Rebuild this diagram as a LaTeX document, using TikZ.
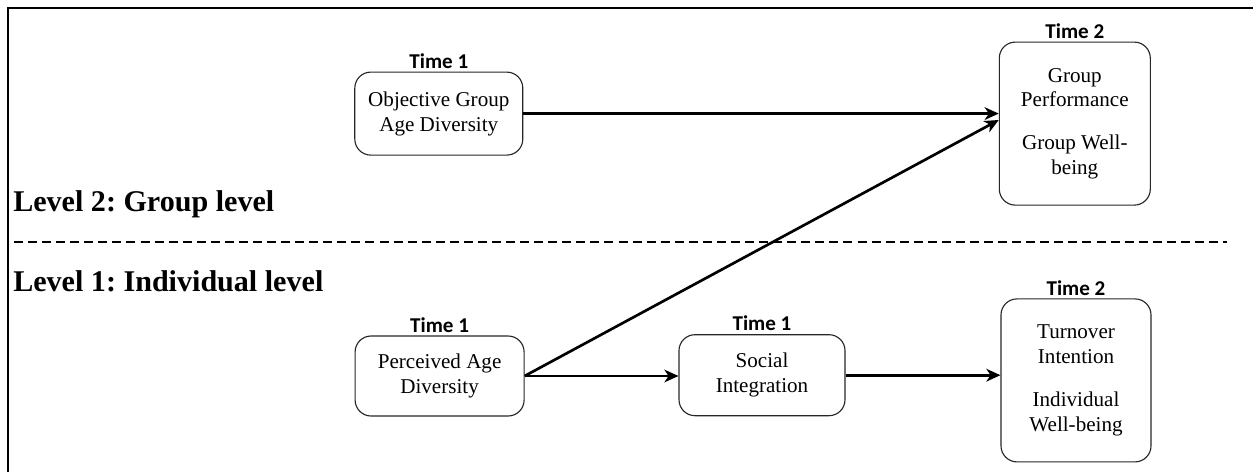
\documentclass[tikz,border=0pt]{standalone}
\usepackage{fontspec}
\setmainfont{Liberation Serif}
\newfontfamily\calfont{Carlito}
\usetikzlibrary{calc, arrows.meta, positioning}
\frenchspacing

\begin{document}
\begin{tikzpicture}[
                  box/.style    = {draw=black!85, line width=0.8pt, rounded corners=0.4cm, align=center,
                                   inner sep=2pt, font=\fontsize{15}{17.6}\selectfont},
                  tlabel/.style = {inner sep=1pt, font=\calfont\bfseries\fontsize{15}{18}\selectfont},
                  lvl/.style    = {anchor=base west, inner sep=0pt, font=\bfseries\fontsize{21.4}{25}\selectfont},
                  arr/.style    = {-{Stealth[length=10pt, width=9pt, inset=3pt]}, line width=1.9pt},
                  sep/.style    = {dash pattern=on 6.4pt off 3.6pt, line width=1.3pt}
            ]
            \useasboundingbox (0,0) rectangle (31.325,11.8);
            % rahmen: nur oben und links sichtbar
            \draw[line width=1.9pt] (31.325,11.6) -- (0.2,11.6) -- (0.2,0);

            % ebene 2
            \node[box, minimum width=4.2cm, minimum height=2.075cm] (obj) at (10.97,8.96) {Objective Group\\Age Diversity};
            \node[box, minimum width=3.775cm, minimum height=4.075cm] (grp) at (26.87,8.71) {Group\\Performance\\[13pt]Group Well-\\being};
            \node[tlabel, above=1pt of obj] (objT) {Time 1};
            \node[tlabel, above=1pt of grp] (grpT) {Time 2};

            % trennlinie und ebenen
            \coordinate (sepL) at (0.35,5.75);
            \coordinate (sepR) at (30.675,5.75);
            \draw[sep] (sepL) -- (sepR);
            \node[lvl] (lvlTwo) at (0.325,6.52) {Level 2: Group level};
            \node[lvl] (lvlOne) at (0.325,4.52) {Level 1: Individual level};

            % ebene 1
            \node[box, minimum width=4.225cm, minimum height=2.0cm] (perc) at (10.99,2.4) {Perceived Age\\Diversity};
            \node[box, minimum width=4.15cm, minimum height=2.025cm] (soc) at (19.05,2.42) {Social\\Integration};
            \node[box, minimum width=3.75cm, minimum height=4.075cm] (ind) at (26.9,2.29) {Turnover\\Intention\\[13pt]Individual\\Well-being};
            \node[tlabel, above=1pt of perc] (percT) {Time 1};
            \node[tlabel, above=1pt of soc]  (socT)  {Time 1};
            \node[tlabel, above=1pt of ind]  (indT)  {Time 2};

            % pfade
            \draw[arr] (obj.east) -- (obj.east -| grp.west);
            \draw[arr] (perc.east) -- ($(grp.west)+(0,0.09)$);
            \draw[arr] (perc.east) -- (perc.east -| soc.west);
            \draw[arr] (soc.east) -- (soc.east -| ind.west);
      \end{tikzpicture}
\end{document}
